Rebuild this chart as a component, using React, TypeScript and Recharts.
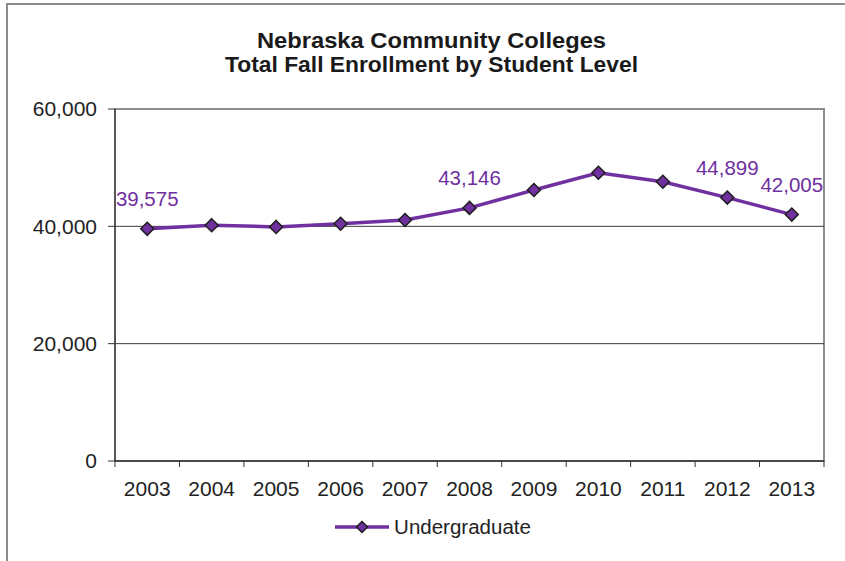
import React from "react";
import {
  LineChart,
  Line,
  XAxis,
  YAxis,
  Legend,
  LabelList,
  ReferenceLine,
  ReferenceArea,
} from "recharts";

const years = ["2003", "2004", "2005", "2006", "2007", "2008", "2009", "2010", "2011", "2012", "2013"];
const undergraduate = [39575, 40200, 39900, 40450, 41080, 43146, 46190, 49140, 47610, 44899, 42005];
const labeledYears = ["2003", "2008", "2012", "2013"];
const yTicks = [0, 20000, 40000, 60000];
const gridValues = [20000, 40000];
const titleLines = ["Nebraska Community Colleges", "Total Fall Enrollment by Student Level"];

const data = years.map((year, i) => ({ year, undergraduate: undergraduate[i] }));

const PURPLE = "#7030a0";
const FONT = "'Liberation Sans', Arial, sans-serif";
const BAND = 709 / years.length;

// recharts passes its own `r` to dots, so the half-diagonal goes in `size`
function Diamond({ cx, cy, size = 6.5 }: { cx?: number; cy?: number; size?: number }) {
  if (cx == null || cy == null) return null;
  const s = size;
  return (
    <path
      d={`M${cx},${cy - s} L${cx + s},${cy} L${cx},${cy + s} L${cx - s},${cy} Z`}
      fill={PURPLE}
      stroke="#1e1e1e"
      strokeWidth={1.5}
    />
  );
}

function YearTick(props: any) {
  const { x, y, payload, index } = props;
  const half = payload && payload.offset ? payload.offset : BAND / 2;
  return (
    <g>
      <line x1={x - half} x2={x - half} y1={y} y2={y + 6} stroke="#333" />
      {index === years.length - 1 && (
        <line x1={x + half} x2={x + half} y1={y} y2={y + 6} stroke="#333" />
      )}
      <text x={x} y={y + 35} textAnchor="middle" fill="#222" fontSize={21} fontFamily={FONT}>
        {payload.value}
      </text>
    </g>
  );
}

function ValueLabel(props: any) {
  const { x, y, value, index } = props;
  if (!labeledYears.includes(years[index])) return null;
  return (
    <text x={x} y={y - 23} textAnchor="middle" fill={PURPLE} fontSize={20.5} fontFamily={FONT}>
      {Number(value).toLocaleString("en-US")}
    </text>
  );
}

function LegendContent() {
  return (
    <div
      style={{
        height: 30,
        width: 845,
        display: "flex",
        alignItems: "center",
        justifyContent: "center",
        paddingLeft: 20,
        boxSizing: "border-box",
        fontFamily: FONT,
      }}
    >
      <svg width={56} height={30}>
        <line x1={1} x2={55} y1={15} y2={15} stroke={PURPLE} strokeWidth={3.5} />
        <Diamond cx={28} cy={15} size={5.5} />
      </svg>
      <span style={{ fontSize: 20.5, color: "#222", marginLeft: 4 }}>Undergraduate</span>
    </div>
  );
}

export default function App() {
  return (
    <div
      style={{
        position: "absolute",
        left: 0,
        top: 0,
        width: 845,
        height: 561,
        overflow: "hidden",
        background: "#fff",
      }}
    >
      <div
        style={{
          position: "absolute",
          left: 6,
          top: 3,
          width: 900,
          height: 700,
          borderTop: "2px solid #8c8c8c",
          borderLeft: "2px solid #8c8c8c",
        }}
      />
      <LineChart
        width={845}
        height={561}
        data={data}
        margin={{ top: 109, right: 21, left: 55, bottom: 19 }}
        style={{ position: "absolute", left: 0, top: 0 }}
      >
        <text
          x={431.5}
          y={48}
          textAnchor="middle"
          fontWeight="bold"
          fontSize={21.5}
          fontFamily={FONT}
          fill="#1a1a1a"
          textLength={349}
          lengthAdjust="spacingAndGlyphs"
        >
          {titleLines[0]}
        </text>
        <text
          x={431.5}
          y={72}
          textAnchor="middle"
          fontWeight="bold"
          fontSize={21.5}
          fontFamily={FONT}
          fill="#1a1a1a"
          textLength={413}
          lengthAdjust="spacingAndGlyphs"
        >
          {titleLines[1]}
        </text>
        <ReferenceArea y1={0} y2={60000} fill="none" stroke="#8c8c8c" strokeWidth={2} ifOverflow="visible" />
        {gridValues.map((v) => (
          <ReferenceLine key={v} y={v} stroke="#3a3a3a" strokeWidth={1} />
        ))}
        <XAxis
          dataKey="year"
          scale="band"
          height={51}
          tickLine={false}
          tickSize={0}
          tickMargin={0}
          interval={0}
          axisLine={{ stroke: "#333", strokeWidth: 1.5 }}
          tick={<YearTick />}
        />
        <YAxis
          width={60}
          domain={[0, 60000]}
          ticks={yTicks}
          tickSize={7}
          tickMargin={11}
          tickLine={{ stroke: "#333" }}
          axisLine={{ stroke: "#444", strokeWidth: 1.5 }}
          tick={{ fill: "#222", fontSize: 21, fontFamily: FONT }}
          tickFormatter={(v: number) => v.toLocaleString("en-US")}
        />
        <Legend verticalAlign="bottom" content={<LegendContent />} wrapperStyle={{ left: 0, width: 845 }} />
        <Line
          type="linear"
          dataKey="undergraduate"
          name="Undergraduate"
          stroke={PURPLE}
          strokeWidth={3.5}
          dot={<Diamond />}
          activeDot={false}
          isAnimationActive={false}
        >
          <LabelList dataKey="undergraduate" content={<ValueLabel />} />
        </Line>
      </LineChart>
    </div>
  );
}
